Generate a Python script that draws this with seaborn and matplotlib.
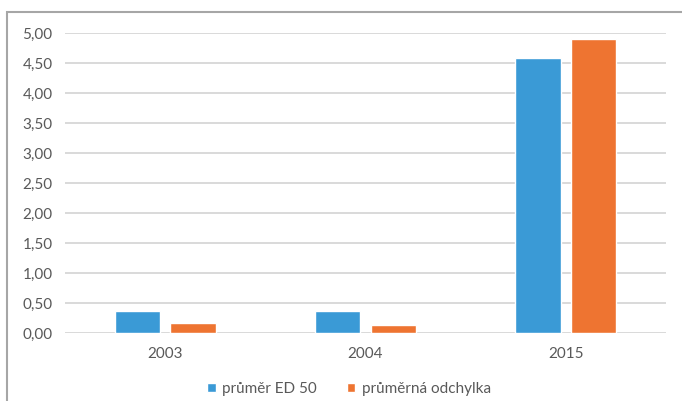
import matplotlib
matplotlib.use("Agg")
import matplotlib.pyplot as plt
from matplotlib.ticker import FuncFormatter, MultipleLocator
from matplotlib.patches import Rectangle
import seaborn as sns
import pandas as pd

years = ["2003", "2004", "2015"]
series_names = ["průměr ED 50", "průměrná odchylka"]
prumer_ed50 = [0.36, 0.36, 4.58]
prumerna_odchylka = [0.16, 0.13, 4.90]
colors = ["#3A9AD6", "#EE7431"]

df = pd.DataFrame({
    "rok": years * 2,
    "serie": [series_names[0]] * 3 + [series_names[1]] * 3,
    "hodnota": prumer_ed50 + prumerna_odchylka,
})

sns.set_theme(style="white")
plt.rcParams["font.family"] = ["Lato", "DejaVu Sans"]

W, H = 682, 401
fig = plt.figure(figsize=(W / 100, H / 100), dpi=100)
ax = fig.add_axes([65 / W, 1 - 333 / H, (666 - 65) / W, (333 - 33) / H])

sns.barplot(data=df, x="rok", y="hodnota", hue="serie", palette=colors,
            width=0.556, gap=0.19, ax=ax, saturation=1, legend=True)

ax.set_ylim(0, 5)
ax.set_xlim(-0.5, 2.5)
ax.yaxis.set_major_locator(MultipleLocator(0.5))
ax.yaxis.set_major_formatter(FuncFormatter(lambda v, p: f"{v:.2f}".replace(".", ",")))
ax.grid(axis="y", color="#D9D9D9", linewidth=1.4)
ax.set_axisbelow(True)
for s in ax.spines.values():
    s.set_visible(False)
ax.set_xlabel("")
ax.set_ylabel("")
ax.tick_params(axis="y", length=0, pad=9, labelsize=11, labelcolor="#595959")
ax.tick_params(axis="x", length=0, pad=10, labelsize=11, labelcolor="#595959")

handles, labels = ax.get_legend_handles_labels()
ax.legend(handles, labels, loc="center", ncol=2, frameon=False,
          fontsize=11, labelcolor="#595959", handlelength=0.55, handleheight=0.55,
          handletextpad=0.4, columnspacing=2.0)
leg = ax.get_legend()
leg.set_bbox_to_anchor((349 / W, 1 - 389 / H), transform=fig.transFigure)

fig.add_artist(Rectangle((7 / W, -0.1), 1.2, 1.1 - 12 / H, transform=fig.transFigure,
                         fill=False, edgecolor="#A6A6A6", linewidth=1.5))

fig.savefig("out.png", dpi=100)
